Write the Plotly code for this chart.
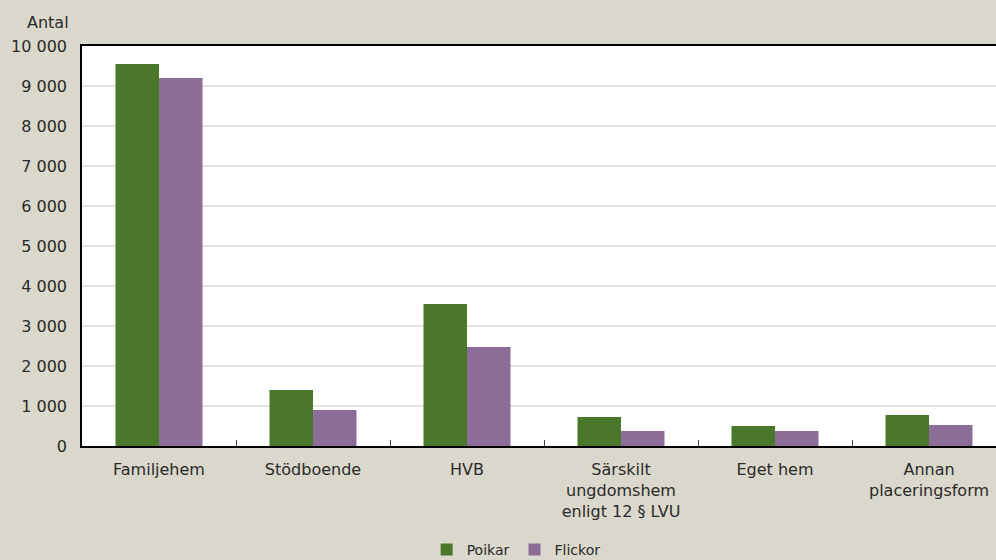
import plotly.graph_objects as go

categories = ["Familjehem", "Stödboende", "HVB", "Särskilt<br>ungdomshem<br>enligt 12 § LVU", "Eget hem", "Annan<br>placeringsform"]
poikar = [9550, 1400, 3550, 725, 500, 775]
flickor = [9200, 900, 2475, 375, 375, 525]
ytickvals = list(range(0, 10001, 1000))
yticktext = ["0", "1 000", "2 000", "3 000", "4 000", "5 000", "6 000", "7 000", "8 000", "9 000", "10 000"]

FONT = "'DejaVu Sans', sans-serif"
BG = "#dad8cc"

fig = go.Figure()
fig.add_trace(go.Bar(x=categories, y=poikar, name="Poikar", marker=dict(color="#4a7729", line=dict(width=0))))
fig.add_trace(go.Bar(x=categories, y=flickor, name="Flickor", marker=dict(color="#8c6d97", line=dict(width=0))))

fig.update_layout(
    width=996, height=560,
    paper_bgcolor=BG, plot_bgcolor="white",
    margin=dict(l=82, r=0, t=46, b=114, autoexpand=False),
    barmode="group", bargap=0.435, bargroupgap=0,
    font=dict(family=FONT, size=16, color="#2a2a2a"),
    showlegend=True,
    legend=dict(orientation="h", x=0.475, xanchor="center", y=-0.26, yanchor="middle",
                font=dict(size=14), bgcolor="rgba(0,0,0,0)", itemwidth=30, traceorder="normal"),
    annotations=[dict(text="Antal", xref="paper", yref="paper", x=-0.037, y=1.03, xanchor="center", yanchor="bottom",
                      showarrow=False, font=dict(size=16, family=FONT, color="#2a2a2a"))],
)
fig.update_xaxes(
    range=[-0.5, 5.435], showline=True, linecolor="black", linewidth=1.5, mirror=True,
    tickson="boundaries", ticks="inside", ticklen=6, tickcolor="#444444",
    showgrid=False, tickfont=dict(size=16), ticklabelstandoff=8, automargin=False,
)
fig.update_yaxes(
    range=[0, 10000], tickvals=ytickvals, ticktext=yticktext,
    showline=True, linecolor="black", linewidth=1.5,
    gridcolor="#e4e4dc", gridwidth=1.5, zeroline=False, ticks="", ticklabelstandoff=10,
    tickfont=dict(size=16), automargin=False,
)
fig.write_html("out.html", config={"displayModeBar": False},
               post_script="document.body.style.margin='0';document.body.style.padding='0';")
